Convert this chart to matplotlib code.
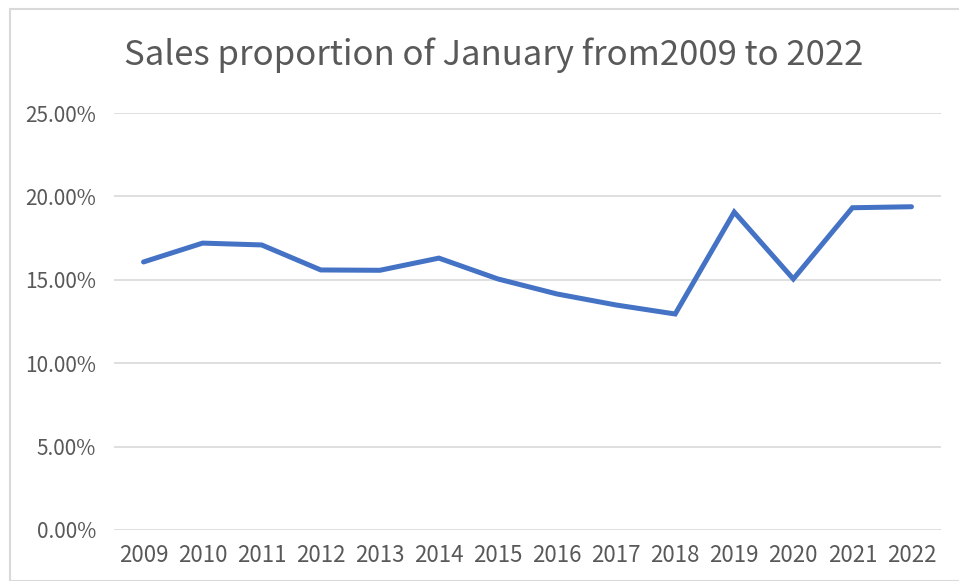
import matplotlib
matplotlib.use("Agg")
import matplotlib.pyplot as plt
from matplotlib.ticker import FuncFormatter
from matplotlib.patches import Rectangle

plt.rcParams['font.family'] = ['Noto Sans CJK SC', 'DejaVu Sans']

# --- Data ---
years = ['2009', '2010', '2011', '2012', '2013', '2014', '2015',
         '2016', '2017', '2018', '2019', '2020', '2021', '2022']
share = [16.07, 17.20, 17.09, 15.59, 15.57, 16.30, 15.05,
         14.15, 13.49, 12.95, 19.06, 15.05, 19.32, 19.38]
y_ticks = [0, 5, 10, 15, 20, 25]

TEXT = '#595959'
GRID = '#d9d9d9'
BLUE = '#4472c4'

W, H = 959, 581
fig = plt.figure(figsize=(W / 100, H / 100), dpi=100)

# chart border (cropped at right and bottom)
fig.patches.append(Rectangle((10 / W, 0), 1.2, 1 - 9 / H, transform=fig.transFigure,
                             fill=False, edgecolor='#d9d9d9', linewidth=1.5))

ax = fig.add_axes([114 / W, 1 - 530 / H, (941 - 114) / W, (530 - 113) / H])
x = range(len(years))
ax.plot(x, share, color=BLUE, linewidth=3.6, solid_capstyle='round', solid_joinstyle='miter')

ax.set_xlim(-0.5, len(years) - 0.5)
ax.set_ylim(0, 25)
ax.set_yticks(y_ticks)
ax.yaxis.set_major_formatter(FuncFormatter(lambda v, p: f'{v:.2f}%'))
ax.set_xticks(list(x))
ax.set_xticklabels(years)
ax.grid(axis='y', color=GRID, linewidth=1.2)
ax.set_axisbelow(True)
for s in ax.spines.values():
    s.set_visible(False)
ax.tick_params(length=0, colors=TEXT)
ax.tick_params(axis='y', pad=13, labelsize=15)
ax.tick_params(axis='x', pad=10, labelsize=16)

fig.text(494 / W, 1 - 55 / H, 'Sales proportion of January from2009 to 2022',
         ha='center', va='center', fontsize=25, color=TEXT)

fig.savefig('out.png', dpi=100)
